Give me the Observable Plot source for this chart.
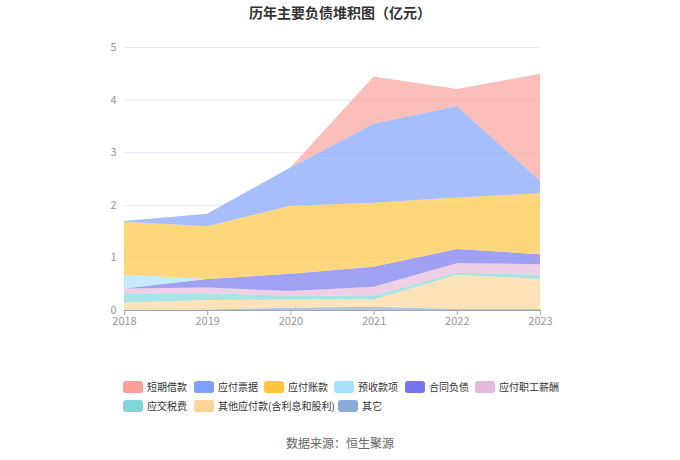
<!DOCTYPE html>
<html>
<head>
<meta charset="utf-8">
<script src="https://cdn.jsdelivr.net/npm/d3@7"></script>
<script src="https://cdn.jsdelivr.net/npm/@observablehq/plot@0.6"></script>
<style>
  body { margin: 0; background: #fff; font-family: "Noto Sans CJK SC", "Noto Sans", sans-serif; }
  #wrap { position: relative; width: 680px; height: 460px; overflow: hidden; }
  #title { position: absolute; top: 2px; left: 0; width: 680px; text-align: center; font-size: 14px; font-weight: bold; color: #333; }
  #chart { position: absolute; top: 26px; left: 0; }
  #legend { position: absolute; top: 377px; left: 123px; width: 540px; height: 40px; font-size: 10px; color: #333; }
  .item { position: absolute; display: flex; align-items: center; height: 19px; white-space: nowrap; }
  .sw { width: 20px; height: 12px; border-radius: 3px; margin-right: 4px; flex-shrink: 0; }
  #source { position: absolute; top: 434px; left: 0; width: 680px; text-align: center; font-size: 12px; color: #666; }
</style>
</head>
<body>
<div id="wrap">
  <div id="title">历年主要负债堆积图（亿元）</div>
  <div id="chart"></div>
  <div id="legend"></div>
  <div id="source">数据来源：恒生聚源</div>
</div>
<script>
const years = [2018, 2019, 2020, 2021, 2022, 2023];
// stacked bottom to top
const qita        = [0.005, 0.01, 0.045, 0.06, 0.02, 0.02];   // 其它
const qitaYingfu  = [0.135, 0.18, 0.155, 0.14, 0.65, 0.57];   // 其他应付款(含利息和股利)
const yingjiaoShui= [0.18, 0.13, 0.07, 0.07, 0.04, 0.08];     // 应交税费
const zhigongXc   = [0.09, 0.11, 0.09, 0.17, 0.18, 0.20];     // 应付职工薪酬
const hetongFz    = [0.00, 0.16, 0.33, 0.38, 0.27, 0.19];     // 合同负债
const yushou      = [0.26, 0.00, 0.00, 0.00, 0.00, 0.00];     // 预收款项
const yingfuZk    = [1.01, 1.00, 1.29, 1.22, 0.98, 1.16];     // 应付账款
const yingfuPj    = [0.01, 0.24, 0.73, 1.50, 1.74, 0.24];     // 应付票据
const duanqiJk    = [0.00, 0.00, 0.00, 0.90, 0.32, 2.03];     // 短期借款
const yTicks = [0, 1, 2, 3, 4, 5];

const stackOrder = [
  ["其它", qita],
  ["其他应付款(含利息和股利)", qitaYingfu],
  ["应交税费", yingjiaoShui],
  ["应付职工薪酬", zhigongXc],
  ["合同负债", hetongFz],
  ["预收款项", yushou],
  ["应付账款", yingfuZk],
  ["应付票据", yingfuPj],
  ["短期借款", duanqiJk]
];
const legendRows = [
  ["短期借款", "应付票据", "应付账款", "预收款项", "合同负债", "应付职工薪酬"],
  ["应交税费", "其他应付款(含利息和股利)", "其它"]
];
const legendOffsets = [[0, 71, 141, 211, 282, 352], [0, 71, 215]];
const colors = {
  "短期借款": "#f99f97",
  "应付票据": "#7e9ffa",
  "应付账款": "#fdc43f",
  "预收款项": "#a8e0fb",
  "合同负债": "#7575ef",
  "应付职工薪酬": "#e8b8da",
  "应交税费": "#80d7d7",
  "其他应付款(含利息和股利)": "#fed598",
  "其它": "#88abd9"
};

const data = [];
for (const [name, vals] of stackOrder) {
  years.forEach((y, i) => data.push({ year: y, name, value: vals[i] }));
}

const chart = Plot.plot({
  width: 680,
  height: 310,
  marginLeft: 124,
  marginRight: 140,
  marginTop: 21,
  marginBottom: 26,
  style: { fontFamily: "'Noto Sans CJK SC', sans-serif", fontSize: "11px", color: "#999", background: "transparent" },
  x: { domain: [2018, 2023], ticks: years, tickFormat: d => String(d), label: null },
  y: { domain: [0, 5], ticks: yTicks, label: null },
  color: { domain: stackOrder.map(d => d[0]), range: stackOrder.map(d => colors[d[0]]) },
  marks: [
    Plot.ruleY(yTicks.slice(1), { stroke: "#e6e8f2", strokeWidth: 1 }),
    Plot.areaY(data, Plot.stackY({ x: "year", y: "value", z: "name", fill: "name", fillOpacity: 0.68, curve: "linear" })),
    Plot.ruleY([0], { stroke: "#a0a8b8", strokeWidth: 1 }),
    Plot.axisX({ ticks: years, tickFormat: d => String(d), tickSize: 5, stroke: "#a0a8b8", fill: "#999", tickPadding: 2, label: null }),
    Plot.axisY({ ticks: yTicks, tickFormat: d => String(d), tickSize: 0, tickPadding: 8, fill: "#999", label: null })
  ]
});
document.getElementById("chart").appendChild(chart);

const legend = document.getElementById("legend");
legendRows.forEach((r, ri) => {
  r.forEach((name, i) => {
    const it = document.createElement("div");
    it.className = "item";
    it.style.left = legendOffsets[ri][i] + "px";
    it.style.top = (ri * 19) + "px";
    const sw = document.createElement("div");
    sw.className = "sw";
    sw.style.background = colors[name];
    const tx = document.createElement("span");
    tx.textContent = name;
    it.appendChild(sw);
    it.appendChild(tx);
    legend.appendChild(it);
  });
});
</script>
</body>
</html>
